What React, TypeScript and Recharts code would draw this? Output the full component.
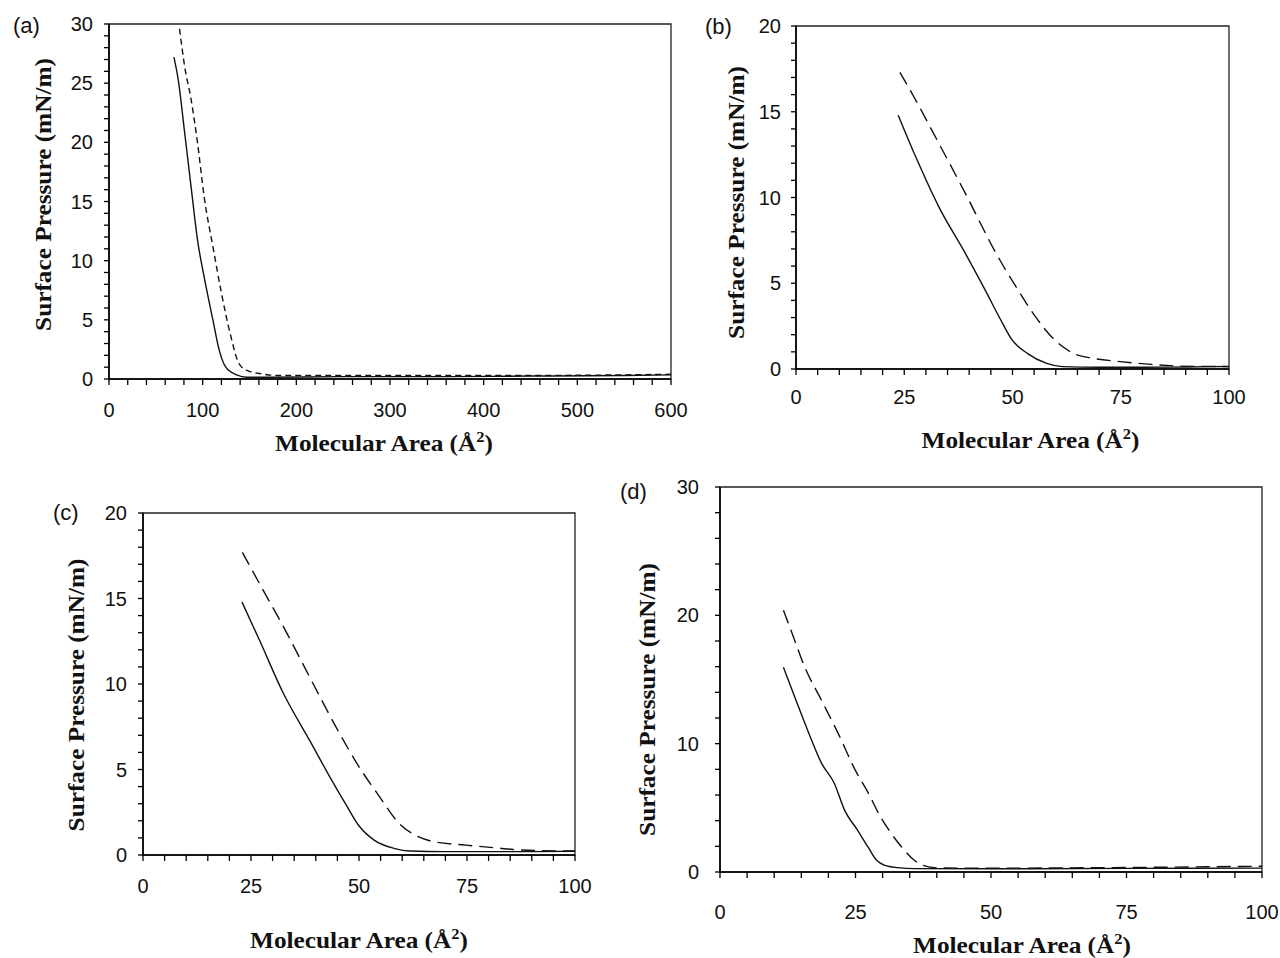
import React from "react";
import { LineChart, Line, XAxis, YAxis, ReferenceArea, Label } from "recharts";

// Panel (a): area 0-600, pressure 0-30
const aSolidArea = [69.3, 73.9, 80.8, 87.7, 94.6, 101.6, 110.9, 117.8, 124.7, 136.3, 147, 170, 250, 350, 450, 550, 600];
const aSolidPressure = [27.2, 25.3, 20.8, 16.2, 11.7, 8.6, 5.0, 2.4, 1.0, 0.35, 0.15, 0.15, 0.2, 0.2, 0.25, 0.3, 0.35];
const aDashArea = [75.3, 80.8, 87.7, 94.6, 101.6, 110.9, 120.2, 129.5, 138.8, 148, 161.8, 180, 250, 350, 450, 550, 600];
const aDashPressure = [29.6, 26.4, 23.6, 19.9, 15.4, 11.2, 7.2, 3.8, 1.3, 0.7, 0.45, 0.3, 0.3, 0.3, 0.3, 0.35, 0.4];

// Panel (b)
const bSolidArea = [23.6, 27.6, 32.9, 39.2, 43.7, 47.2, 49.9, 53.5, 57.9, 61.5, 70, 80, 90, 100];
const bSolidPressure = [14.8, 12.4, 9.5, 6.7, 4.6, 2.9, 1.7, 0.9, 0.33, 0.14, 0.1, 0.1, 0.12, 0.15];
const bDashArea = [24, 27.6, 32.9, 39.2, 46.3, 50.8, 55.3, 59.7, 64.2, 68.7, 74.9, 82, 88.3, 100];
const bDashPressure = [17.3, 15.7, 13.2, 10.2, 6.7, 4.8, 3.05, 1.7, 0.9, 0.62, 0.43, 0.27, 0.17, 0.14];

// Panel (c)
const cSolidArea = [22.9, 26.9, 32.4, 38.8, 43.4, 47.1, 49.9, 53.5, 58.1, 61.8, 70, 80, 90, 100];
const cSolidPressure = [14.8, 12.6, 9.5, 6.6, 4.5, 2.9, 1.74, 0.87, 0.39, 0.23, 0.2, 0.2, 0.2, 0.22];
const cDashArea = [23, 26.9, 32.4, 38.8, 45.3, 49.9, 54.5, 59.1, 63.7, 67.3, 74.7, 81.1, 87.6, 100];
const cDashPressure = [17.7, 15.9, 13.4, 10.3, 7.2, 5.2, 3.5, 1.9, 1.07, 0.78, 0.58, 0.43, 0.29, 0.23];

// Panel (d)
const dSolidArea = [11.7, 14.0, 16.4, 18.7, 21.1, 23.0, 25.4, 27.3, 28.9, 30.4, 32.8, 35.9, 50, 75, 100];
const dSolidPressure = [15.95, 13.4, 10.8, 8.5, 6.9, 4.8, 3.25, 1.95, 0.91, 0.52, 0.34, 0.26, 0.25, 0.28, 0.3];
const dDashArea = [11.7, 13.3, 15.6, 18.7, 21.8, 25, 27.3, 29.6, 31.6, 33.5, 35.9, 37.4, 40.6, 50, 75, 100];
const dDashPressure = [20.4, 18.6, 16.0, 13.4, 10.8, 7.9, 6.2, 4.3, 3.0, 1.95, 0.9, 0.52, 0.31, 0.3, 0.35, 0.45];

// tick labels
const aXLabels = [0, 100, 200, 300, 400, 500, 600];
const aYLabels = [0, 5, 10, 15, 20, 25, 30];
const bcdXLabels = [0, 25, 50, 75, 100];
const bcYLabels = [0, 5, 10, 15, 20];
const dYLabels = [0, 10, 20, 30];

const steps = (max: number, step: number) =>
  Array.from({ length: Math.round(max / step) + 1 }, (_, i) => i * step);

const zip = (xs: number[], ys: number[]) => xs.map((x, i) => ({ x, y: ys[i] }));

const TICK_FONT = "'Liberation Sans', Arial, sans-serif";
const TITLE_FONT = "'Liberation Serif', 'Times New Roman', serif";
const Y_W = 100;
const M_TOP = 10;

interface PanelCfg {
  tag: string;
  tagPos: [number, number];
  plotLeft: number;
  plotTop: number;
  plotW: number;
  plotH: number;
  right: number;
  xH: number;
  xMax: number;
  yMax: number;
  xStep: number;
  yStep: number;
  xLabels: number[];
  yLabels: number[];
  xTickMargin: number;
  yTickMargin: number;
  xTitle: [number, number]; // dx from plot centre, distance below axis
  yTitle: [number, number]; // distance left of axis, dy from plot centre
  dash: string;
  solid: { x: number; y: number }[];
  dashed: { x: number; y: number }[];
}

const panels: PanelCfg[] = [
  {
    tag: "(a)", tagPos: [13, 15],
    plotLeft: 109, plotTop: 24, plotW: 562, plotH: 355, right: 20, xH: 85,
    xMax: 600, yMax: 30, xStep: 20, yStep: 1,
    xLabels: aXLabels, yLabels: aYLabels,
    xTickMargin: 18, yTickMargin: 11,
    xTitle: [-6, 65], yTitle: [65, -7],
    dash: "6 4",
    solid: zip(aSolidArea, aSolidPressure), dashed: zip(aDashArea, aDashPressure),
  },
  {
    tag: "(b)", tagPos: [705, 16],
    plotLeft: 796, plotTop: 26, plotW: 433, plotH: 343, right: 20, xH: 90,
    xMax: 100, yMax: 20, xStep: 5, yStep: 1,
    xLabels: bcdXLabels, yLabels: bcYLabels,
    xTickMargin: 15, yTickMargin: 10,
    xTitle: [18, 72], yTitle: [59, 5],
    dash: "14 7",
    solid: zip(bSolidArea, bSolidPressure), dashed: zip(bDashArea, bDashPressure),
  },
  {
    tag: "(c)", tagPos: [53, 502],
    plotLeft: 143, plotTop: 513, plotW: 432, plotH: 342, right: 20, xH: 100,
    xMax: 100, yMax: 20, xStep: 5, yStep: 1,
    xLabels: bcdXLabels, yLabels: bcYLabels,
    xTickMargin: 18, yTickMargin: 11,
    xTitle: [0, 86], yTitle: [66, 11],
    dash: "14 7",
    solid: zip(cSolidArea, cSolidPressure), dashed: zip(cDashArea, cDashPressure),
  },
  {
    tag: "(d)", tagPos: [620, 481],
    plotLeft: 720, plotTop: 487, plotW: 542, plotH: 385, right: 18, xH: 86,
    xMax: 100, yMax: 30, xStep: 5, yStep: 2,
    xLabels: bcdXLabels, yLabels: dYLabels,
    xTickMargin: 27, yTickMargin: 16,
    xTitle: [31, 74], yTitle: [72, 20],
    dash: "14 7",
    solid: zip(dSolidArea, dSolidPressure), dashed: zip(dDashArea, dDashPressure),
  },
];

function Panel({ cfg }: { cfg: PanelCfg }) {
  const width = Y_W + cfg.plotW + cfg.right;
  const height = M_TOP + cfg.plotH + cfg.xH;

  const xTitle = (props: any) => {
    const vb = props.viewBox;
    const cx = vb.x + vb.width / 2 + cfg.xTitle[0];
    const cy = vb.y + cfg.xTitle[1] + 7;
    return (
      <text
        transform={`translate(${cx},${cy}) scale(1.1,1)`}
        textAnchor="middle"
        fontFamily={TITLE_FONT}
        fontWeight="bold"
        fontSize={23}
        fill="#111"
      >
        Molecular Area (Å
        <tspan fontSize={15} dy={-9}>2</tspan>
        <tspan dy={9}>)</tspan>
      </text>
    );
  };

  const yTitle = (props: any) => {
    const vb = props.viewBox;
    const cx = vb.x + vb.width - cfg.yTitle[0] + 7;
    const cy = vb.y + vb.height / 2 + cfg.yTitle[1];
    return (
      <text
        transform={`translate(${cx},${cy}) rotate(-90) scale(1.1,1)`}
        textAnchor="middle"
        fontFamily={TITLE_FONT}
        fontWeight="bold"
        fontSize={23}
        fill="#111"
      >
        Surface Pressure (mN/m)
      </text>
    );
  };

  return (
    <>
      <div
        style={{
          position: "absolute",
          left: cfg.tagPos[0],
          top: cfg.tagPos[1],
          fontFamily: TICK_FONT,
          fontSize: 22,
          lineHeight: 1,
          color: "#111",
        }}
      >
        {cfg.tag}
      </div>
      <div style={{ position: "absolute", left: cfg.plotLeft - Y_W, top: cfg.plotTop - M_TOP }}>
        <LineChart width={width} height={height} margin={{ top: M_TOP, right: cfg.right, left: 0, bottom: 0 }}>
          <XAxis
            type="number"
            dataKey="x"
            domain={[0, cfg.xMax]}
            ticks={steps(cfg.xMax, cfg.xStep)}
            interval={0}
            allowDataOverflow
            tickFormatter={(v: number) => (cfg.xLabels.includes(v) ? String(v) : "")}
            height={cfg.xH}
            tickSize={6}
            tickMargin={cfg.xTickMargin}
            tick={{ fill: "#111", fontSize: 20, fontFamily: TICK_FONT }}
            axisLine={{ stroke: "#000", strokeWidth: 1.6 }}
            tickLine={{ stroke: "#000", strokeWidth: 1.3 }}
            label={<Label content={xTitle} />}
          />
          <YAxis
            type="number"
            domain={[0, cfg.yMax]}
            ticks={steps(cfg.yMax, cfg.yStep)}
            interval={0}
            allowDataOverflow
            tickFormatter={(v: number) => (cfg.yLabels.includes(v) ? String(v) : "")}
            width={Y_W}
            tickSize={5}
            tickMargin={cfg.yTickMargin}
            tick={{ fill: "#111", fontSize: 20, fontFamily: TICK_FONT }}
            axisLine={{ stroke: "#000", strokeWidth: 1.6 }}
            tickLine={{ stroke: "#000", strokeWidth: 1.3 }}
            label={<Label content={yTitle} />}
          />
          <ReferenceArea
            x1={0}
            x2={cfg.xMax}
            y1={0}
            y2={cfg.yMax}
            fill="none"
            stroke="#222"
            strokeWidth={1.3}
          />
          <Line
            data={cfg.solid}
            dataKey="y"
            type="monotone"
            stroke="#111"
            strokeWidth={1.4}
            dot={false}
            isAnimationActive={false}
          />
          <Line
            data={cfg.dashed}
            dataKey="y"
            type="monotone"
            stroke="#111"
            strokeWidth={1.4}
            strokeDasharray={cfg.dash}
            dot={false}
            isAnimationActive={false}
          />
        </LineChart>
      </div>
    </>
  );
}

export default function App() {
  return (
    <div style={{ position: "absolute", left: 0, top: 0, width: 1280, height: 958, background: "#fff", overflow: "hidden" }}>
      {panels.map((p) => (
        <Panel key={p.tag} cfg={p} />
      ))}
    </div>
  );
}
